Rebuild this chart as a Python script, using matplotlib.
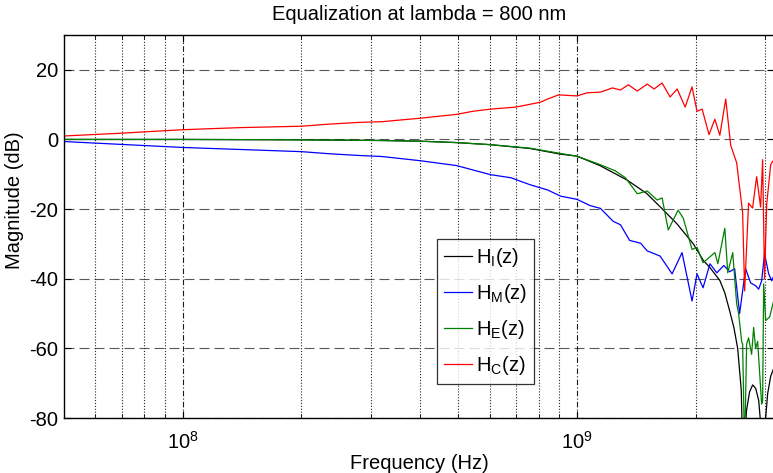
import numpy as np
import matplotlib
matplotlib.use("Agg")
import matplotlib.pyplot as plt
from matplotlib.ticker import LogLocator, FixedLocator, NullFormatter

plt.rcParams['font.family'] = ['Liberation Sans', 'DejaVu Sans']
plt.rcParams['mathtext.fontset'] = 'custom'
plt.rcParams['mathtext.rm'] = 'Liberation Sans'
plt.rcParams['mathtext.it'] = 'Liberation Sans:italic'
plt.rcParams['mathtext.bf'] = 'Liberation Sans:bold'
plt.rcParams['axes.unicode_minus'] = False

title = "Equalization at lambda = 800 nm"
xlabel = "Frequency (Hz)"
ylabel = "Magnitude (dB)"
labels = [r"H$_{\mathrm{I}}$(z)", r"H$_{\mathrm{M}}$(z)", r"H$_{\mathrm{E}}$(z)", r"H$_{\mathrm{C}}$(z)"]
yticks = [-80, -60, -40, -20, 0, 20]

# H_I (black)
f_I = [5e7, 1e8, 2e8, 3.2e8, 4.0e8, 4.95e8, 6.03e8, 7.6e8, 9.06e8, 1.0e9, 1.143e9, 1.337e9,
       1.502e9, 1.624e9, 1.792e9, 1.973e9, 2.093e9, 2.174e9, 2.303e9, 2.37e9, 2.44e9, 2.5e9,
       2.556e9, 2.61e9, 2.64e9, 2.69e9,
       2.74e9, 2.79e9, 2.84e9, 2.89e9, 2.94e9, 2.975e9, 3.01e9, 3.045e9, 3.1e9, 3.16e9]
h_I = [0, 0, -0.1, -0.3, -0.5, -0.9, -1.5, -2.6, -4.2, -4.8, -7.5, -11.6,
       -15.5, -19.3, -24.2, -30, -34.8, -36.8, -40.5, -44, -49.3, -54,
       -60, -72, -95, -78,
       -72.5, -70.5, -71.5, -75, -85, -95, -80, -73, -68, -65.5]

# H_M (blue)
f_M = [5e7, 1e8, 2e8, 2.35e8, 2.8e8, 3.2e8, 4.0e8, 4.95e8, 6.03e8, 6.8e8, 7.6e8, 8.42e8,
       9.1e8, 1.0e9, 1.08e9, 1.147e9, 1.235e9, 1.289e9, 1.36e9, 1.45e9, 1.507e9, 1.625e9,
       1.743e9, 1.847e9, 1.958e9, 2.016e9, 2.088e9, 2.174e9, 2.263e9, 2.357e9, 2.44e9,
       2.511e9, 2.585e9, 2.677e9, 2.757e9, 2.838e9, 2.889e9, 2.94e9, 2.99e9, 3.063e9,
       3.12e9, 3.16e9]
h_M = [-0.6, -2.3, -3.5, -4.1, -4.6, -4.9, -6.1, -7.5, -10.1, -11, -13, -14.5,
       -16.3, -17.2, -19, -19.8, -23.5, -24.5, -29, -29.8, -32, -33.5,
       -38.6, -32.5, -46.4, -38.6, -42.6, -35.7, -38.3, -36.2, -38,
       -37.1, -50, -37.1, -41.2, -42, -43, -40.6, -32.8, -38.6,
       -40.6, -39]

# H_E (green)
f_E = [5e7, 1e8, 2e8, 3.2e8, 4.0e8, 4.95e8, 6.03e8, 7.6e8, 9.06e8, 1.0e9, 1.143e9, 1.25e9,
       1.327e9, 1.422e9,
       1.507e9, 1.597e9, 1.644e9, 1.704e9, 1.805e9, 1.86e9, 1.958e9, 2.016e9, 2.088e9,
       2.237e9, 2.277e9, 2.371e9, 2.412e9, 2.483e9, 2.541e9, 2.57e9, 2.616e9, 2.631e9,
       2.662e9, 2.693e9, 2.724e9, 2.773e9, 2.806e9, 2.838e9, 2.872e9, 2.94e9, 2.957e9,
       2.975e9, 3.01e9, 3.08e9, 3.16e9]
h_E = [0, 0, -0.1, -0.3, -0.5, -0.9, -1.5, -2.5, -4.0, -4.8, -7.2, -9.0,
       -11, -15.6,
       -14.8, -17.4, -16.8, -26, -20.3, -22.6, -31.6, -31, -35.4,
       -32.5, -35.7, -25.5, -38.3, -32.5, -47.2, -50, -58, -58.8,
       -90, -58.8, -57, -61.7, -54, -60, -58, -76, -75,
       -41.5, -52, -51, -46]

# H_C (red)
f_C = [5e7, 7e7, 1e8, 1.4e8, 2e8, 2.35e8, 2.8e8, 3.2e8, 4.0e8, 4.95e8, 5.45e8, 6.03e8,
       7.0e8, 8.08e8, 8.42e8, 8.98e8, 1.0e9, 1.062e9, 1.147e9, 1.23e9, 1.289e9, 1.35e9,
       1.422e9, 1.507e9, 1.569e9, 1.644e9, 1.723e9, 1.795e9, 1.881e9, 1.958e9, 2.016e9,
       2.077e9, 2.162e9, 2.237e9, 2.303e9, 2.384e9, 2.454e9, 2.541e9, 2.631e9, 2.662e9,
       2.724e9, 2.789e9, 2.855e9, 2.922e9, 2.957e9, 2.99e9, 3.028e9, 3.1e9, 3.16e9]
h_C = [1.0, 1.8, 2.8, 3.4, 3.8, 4.4, 4.9, 5.1, 6.1, 7.2, 8.1, 8.7,
       9.3, 10.7, 11.6, 12.8, 12.5, 13.4, 13.6, 14.8, 14.2, 15.7,
       13.9, 15.9, 14.5, 16.2, 12.2, 14.5, 9.3, 15.1, 8.1,
       8.7, 1.4, 5.8, 1.2, 11.6, -1.7, -6.7, -21, -43.5,
       -18.3, -19.7, -10.7, -19.4, -5.8, -40, -18.6, -7.2, -5.8]

fig = plt.figure(figsize=(7.73, 4.73), dpi=100)
ax = fig.add_axes([64/773, 55/473, 710/773, 383/473])

lw = 0.9
ax.semilogx(f_I, h_I, color='black', lw=lw, label=labels[0])
ax.semilogx(f_M, h_M, color='#0000ff', lw=lw, label=labels[1])
ax.semilogx(f_E, h_E, color='#008000', lw=lw, label=labels[2])
ax.semilogx(f_C, h_C, color='#ff0000', lw=lw, label=labels[3])

ax.set_xlim(5e7, 3.16e9)
ax.set_ylim(-80, 30)
ax.set_yticks(yticks)
ax.xaxis.set_major_locator(FixedLocator([1e8, 1e9]))
ax.xaxis.set_minor_locator(LogLocator(base=10, subs=np.arange(2, 10), numticks=20))
ax.xaxis.set_minor_formatter(NullFormatter())

# grid
for y in yticks:
    ax.axhline(y, color='0.35', lw=0.8, ls=(0, (9, 4.5)), zorder=0.5)
for fx in ax.xaxis.get_minorticklocs():
    if 5e7 < fx < 3.16e9:
        ax.axvline(fx, color='0.15', lw=0.8, ls=(0, (1, 1.6)), zorder=0.5)
for fx in [1e8, 1e9]:
    ax.axvline(fx, color='0.1', lw=0.8, ls=(0, (5, 2, 1, 2)), zorder=0.5)

ax.tick_params(which='both', direction='in', top=True, right=True, labelsize=14.5, color='black')
ax.tick_params(which='major', length=5, width=0.8, pad=4)
ax.tick_params(which='minor', length=3, width=0.6)
ax.tick_params(axis='x', which='major', pad=9)
for s in ax.spines.values():
    s.set_linewidth(1.0)

ax.set_title(title, fontsize=14.5, pad=11)
ax.set_xlabel(xlabel, fontsize=14.5, labelpad=1)
ax.set_ylabel(ylabel, fontsize=14.5, va='center')
ax.yaxis.set_label_coords((15 - 64) / 710, (418 - 200) / 383)

leg = ax.legend(loc='upper left', bbox_to_anchor=((437-64)/710, (418-239)/383),
                borderaxespad=0, fontsize=14.5, frameon=True, fancybox=False,
                edgecolor='black', handlelength=1.4, handletextpad=0.2,
                labelspacing=0.64, borderpad=0.35)
leg.get_frame().set_linewidth(0.9)

fig.savefig("out.png", dpi=100)
